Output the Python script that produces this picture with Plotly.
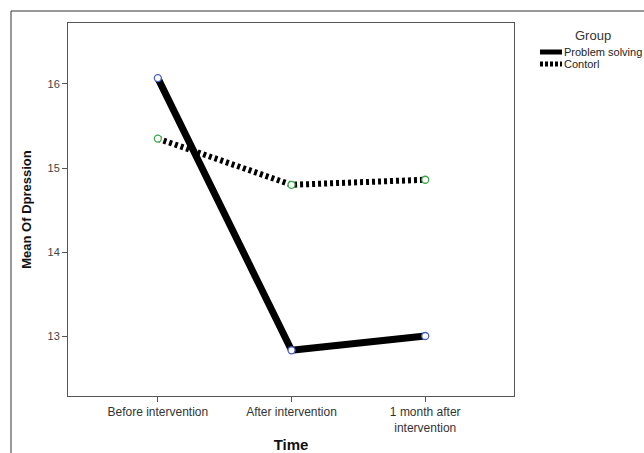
import plotly.graph_objects as go

categories = ["Before intervention", "After intervention", "1 month after<br>intervention"]
problem_solving = [16.07, 12.83, 13.0]
control = [15.35, 14.80, 14.86]
group_names = ["Problem solving", "Contorl"]
legend_title = "Group"
y_ticks = [13, 14, 15, 16]

x_pos = list(range(len(categories)))

W, H = 644, 453
L, R, T, B = 68, 514, 23, 396
pw, ph = R - L, B - T

def px_x(p):
    return (p - L) / pw

def px_y(p):
    return (B - p) / ph

line_styles = [dict(color="black", width=7), dict(color="black", width=6, dash="3px,3px")]
marker_colors = ["#4a5fc8", "#3aa648"]
series = [problem_solving, control]

fig = go.Figure()
for name, vals, ls in zip(group_names, series, line_styles):
    fig.add_trace(go.Scatter(x=x_pos, y=vals, mode="lines", name=name, line=ls, showlegend=False))
for vals, mc in zip(series, marker_colors):
    fig.add_trace(go.Scatter(x=x_pos, y=vals, mode="markers", showlegend=False,
                             marker=dict(symbol="circle", size=7, color="white",
                                         line=dict(color=mc, width=1.3))))

annotations = [dict(text=legend_title, xref="paper", yref="paper", x=px_x(593), y=px_y(35),
                    xanchor="center", yanchor="middle", showarrow=False,
                    font=dict(size=13, color="#333"))]
shapes = []
legend_rows = [52, 64]
legend_dash = ["solid", "3px,2px"]
for name, yrow, dsh in zip(group_names, legend_rows, legend_dash):
    shapes.append(dict(type="line", xref="paper", yref="paper",
                       x0=px_x(540), x1=px_x(562), y0=px_y(yrow), y1=px_y(yrow),
                       line=dict(color="black", width=5, dash=dsh)))
    annotations.append(dict(text=name, xref="paper", yref="paper", x=px_x(562), y=px_y(yrow),
                            xanchor="left", yanchor="middle", showarrow=False,
                            font=dict(size=11, color="#222")))

shapes += [
    dict(type="line", xref="paper", yref="paper", x0=px_x(11), x1=px_x(644),
         y0=px_y(11), y1=px_y(11), line=dict(color="#333", width=1)),
    dict(type="line", xref="paper", yref="paper", x0=px_x(11), x1=px_x(11),
         y0=px_y(11), y1=px_y(460), line=dict(color="#333", width=1)),
]

fig.update_layout(
    width=W, height=H,
    margin=dict(l=L, r=W - R, t=T, b=H - B, pad=0, autoexpand=False),
    paper_bgcolor="white", plot_bgcolor="white",
    font=dict(family="Liberation Sans, Arial, sans-serif", size=11, color="#333"),
    showlegend=False,
    xaxis=dict(
        range=[-0.672, 2.664], tickvals=x_pos, ticktext=categories,
        automargin=False,
        showgrid=False, zeroline=False,
        showline=True, linecolor="#555", linewidth=1, mirror=True,
        ticks="outside", ticklen=5, tickcolor="#555",
        tickfont=dict(size=12, color="#333"),
        title=dict(text="<b>Time</b>", font=dict(size=15, color="#111"), standoff=6),
    ),
    yaxis=dict(
        range=[12.286, 16.726], tickvals=y_ticks,
        automargin=False,
        showgrid=False, zeroline=False,
        showline=True, linecolor="#555", linewidth=1, mirror=True,
        ticks="outside", ticklen=5, tickcolor="#555",
        tickfont=dict(size=11, color="#444"),
        title=dict(text="<b>Mean Of Dpression</b>", font=dict(size=13, color="#111"), standoff=12),
    ),
    shapes=shapes,
    annotations=annotations,
)

fig.write_html("out.html", config={"displayModeBar": False},
               post_script="document.body.style.margin='0';document.body.style.overflow='hidden';")
